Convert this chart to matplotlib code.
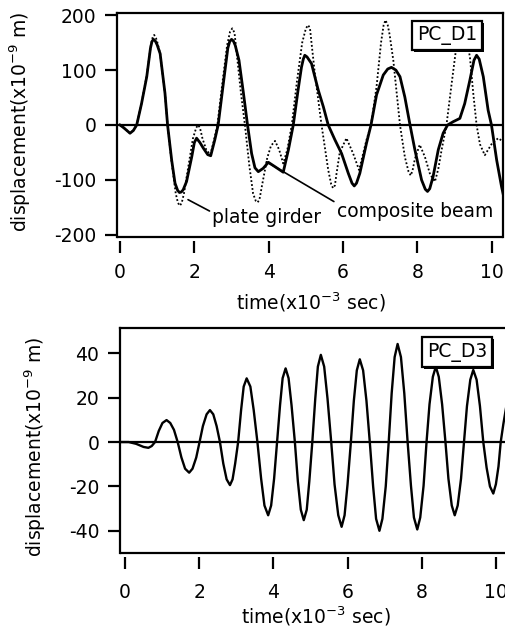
import matplotlib
matplotlib.use("Agg")
import matplotlib.pyplot as plt
import matplotlib.patheffects as pe

plt.rcParams['font.family'] = ['DejaVu Sans']
plt.rcParams['mathtext.fontset'] = 'dejavusans'

# ---------------- data ----------------
# Top panel (PC_D1): time in 1e-3 s, displacement in 1e-9 m
composite_t = [0.0, 0.1, 0.27, 0.36, 0.45, 0.58, 0.72, 0.82, 0.86, 0.90, 0.95, 1.0, 1.08, 1.21, 1.28,
               1.39, 1.48, 1.55, 1.60, 1.65, 1.70, 1.79, 1.93, 2.0, 2.06, 2.15, 2.24, 2.36, 2.44, 2.55, 2.64,
               2.78, 2.9, 2.95, 3.0, 3.05, 3.1, 3.2, 3.32, 3.43, 3.54, 3.63, 3.72, 3.85, 3.99, 4.17,
               4.39, 4.53, 4.66, 4.79, 4.88, 4.93, 4.97, 5.03, 5.15, 5.33, 5.47, 5.60, 5.78, 5.96,
               6.14, 6.24, 6.30, 6.36, 6.45, 6.63, 6.75, 6.90, 7.08, 7.20, 7.30, 7.42, 7.53, 7.66, 7.80, 7.93,
               8.11, 8.21, 8.27, 8.33, 8.42, 8.56, 8.69, 8.81, 8.96, 9.14, 9.27, 9.41, 9.52, 9.59, 9.66, 9.77,
               9.90, 9.99, 10.13, 10.26, 10.35]
composite_d = [0, -5, -15, -10, 0, 39, 88, 140, 152, 156, 153, 146, 130, 58, 0,
               -64, -106, -119, -123, -122, -118, -103, -58, -32, -24, -32, -42, -54, -56, -27, 0,
               76, 140, 152, 156, 153, 145, 118, 58, 0, -52, -78, -85, -79, -68, -76,
               -86, -45, 0, 64, 105, 120, 127, 124, 112, 64, 33, 0, -27, -52,
               -88, -106, -111, -106, -88, -33, 0, 55, 91, 102, 105, 100, 88, 51, 0, -45,
               -100, -117, -121, -116, -94, -45, -15, 0, 6, 12, 39, 82, 118, 127, 120, 88,
               27, 0, -64, -112, -140]

girder_t = [0.0, 0.1, 0.27, 0.36, 0.45, 0.58, 0.72, 0.83, 0.88, 0.92, 0.97, 1.0, 1.08, 1.21, 1.28,
            1.39, 1.5, 1.56, 1.61, 1.66, 1.72, 1.84, 1.96, 2.05, 2.10, 2.15, 2.22, 2.32, 2.43, 2.52, 2.62,
            2.76, 2.88, 2.96, 3.02, 3.08, 3.14, 3.25, 3.36, 3.48, 3.58, 3.65, 3.70, 3.75, 3.82, 3.96, 4.06,
            4.17, 4.28, 4.39, 4.5, 4.62, 4.76, 4.9, 5.0, 5.06, 5.11, 5.15, 5.24, 5.42, 5.6,
            5.68, 5.73, 5.78, 5.82, 5.91, 6.09, 6.27, 6.43, 6.63, 6.75, 6.9, 7.02, 7.09, 7.14, 7.2, 7.25,
            7.35, 7.53, 7.66, 7.76, 7.82, 7.87, 7.93, 8.06, 8.2, 8.34, 8.47, 8.56, 8.65, 8.78,
            8.92, 9.01, 9.1, 9.2, 9.3, 9.41, 9.50, 9.59, 9.68, 9.81, 9.99, 10.17, 10.3]
girder_d = [0, -5, -15, -10, 0, 40, 90, 145, 160, 164, 158, 152, 130, 58, 0,
            -68, -125, -142, -147, -142, -125, -75, -25, -5, 0, -5, -25, -45, -54, -30, 0,
            80, 145, 170, 176, 168, 130, 60, 0, -75, -125, -138, -141, -136, -110, -60, -38,
            -29, -45, -70, -45, 0, 80, 150, 176, 182, 176, 150, 94, 0, -82,
            -108, -115, -110, -90, -50, -24, -52, -82, -27, 0, 70, 150, 182, 191, 182, 165,
            118, 0, -58, -85, -92, -82, -62, -36, -58, -90, -103, -80, -45, 0,
            76, 124, 170, 185, 165, 124, 58, 0, -35, -55, -35, -24, -30]

# Bottom panel (PC_D3)
d3_t = [-0.15, 0.1, 0.3, 0.5, 0.63, 0.72, 0.81, 0.91, 1.01, 1.12, 1.22, 1.32, 1.42,
        1.52, 1.62, 1.73, 1.82, 1.92, 2.01, 2.1, 2.2, 2.29, 2.38, 2.47, 2.56, 2.65,
        2.74, 2.83, 2.9, 2.97, 3.05, 3.13, 3.2, 3.28, 3.38, 3.47, 3.57, 3.67, 3.76,
        3.86, 3.94, 4.02, 4.1, 4.18, 4.25, 4.33, 4.41, 4.49, 4.58, 4.66, 4.74, 4.82,
        4.9, 4.97, 5.05, 5.13, 5.2, 5.28, 5.37, 5.46, 5.56, 5.65, 5.75, 5.84, 5.92,
        6.0, 6.09, 6.17, 6.25, 6.33, 6.42, 6.51, 6.6, 6.69, 6.77, 6.86, 6.94, 7.03,
        7.11, 7.19, 7.27, 7.35, 7.44, 7.53, 7.62, 7.71, 7.79, 7.88, 7.96, 8.05, 8.13,
        8.21, 8.3, 8.38, 8.46, 8.55, 8.64, 8.72, 8.81, 8.89, 8.97, 9.06, 9.14, 9.22,
        9.31, 9.39, 9.48, 9.57, 9.66, 9.75, 9.84, 9.93, 10.0, 10.07, 10.13, 10.2, 10.3]
d3_d = [0, 0, -0.8, -2.2, -2.6, -1.8, 0, 5, 8.6, 9.9, 8.6, 5.5, 0,
        -6.9, -12, -13.8, -12, -7, 0, 7.2, 12.5, 14.4, 12.5, 7.2, 0, -9.7,
        -16.8, -19.4, -16.8, -9.7, 0, 14.4, 25, 28.7, 25, 14.4, 0, -16.5, -28.6,
        -33, -28.6, -16.5, 0, 16.6, 28.8, 33.2, 28.8, 16.6, 0, -17.6, -30.5, -35.2,
        -30.5, -17.6, 0, 19.6, 34, 39.3, 34, 19.6, 0, -19.1, -33, -38.2, -33,
        -19.1, 0, 18.6, 32.3, 37.3, 32.3, 18.6, 0, -20, -34.6, -40, -34.6, -20,
        0, 22, 38.3, 44.2, 38.3, 22, 0, -19.7, -34, -39.4, -34, -19.7, 0,
        17, 29.4, 34, 29.4, 17, 0, -16.5, -28.6, -33, -28.6, -16.5, 0, 16.2,
        28.1, 32.5, 28.1, 16.2, 0, -11.6, -20, -23.2, -19, -11, 0, 8, 18]

xticks = [0, 2, 4, 6, 8, 10]
top_yticks = [-200, -100, 0, 100, 200]
bot_yticks = [-40, -20, 0, 20, 40]

# ---------------- figure ----------------
W, H = 506, 631
fig = plt.figure(figsize=(W / 100, H / 100), dpi=100)

FS = 13.5


def px_axes(l, t, r, b):
    return [l / W, (H - b) / H, (r - l) / W, (b - t) / H]


def style(ax, xlim, ylim, yticks, xpad):
    ax.set_xlim(*xlim)
    ax.set_ylim(*ylim)
    ax.set_xticks(xticks)
    ax.set_yticks(yticks)
    ax.set_xticklabels([str(v) for v in xticks])
    ax.set_yticklabels([str(v) for v in yticks])
    for s in ax.spines.values():
        s.set_linewidth(1.6)
    ax.spines['bottom'].set_position(('outward', 3))
    ax.spines['bottom'].set_visible(False)
    ax.plot([0, 1], [0, 0], transform=ax.transAxes, color='black', lw=1.6,
            clip_on=False, solid_capstyle='butt', zorder=5)
    ax.tick_params(axis='y', direction='out', length=9, width=1.6, pad=6,
                   labelsize=FS, left=True, right=False)
    ax.tick_params(axis='x', direction='out', length=8.5, width=1.6, pad=xpad,
                   labelsize=FS, top=False, bottom=True)
    ax.axhline(0, color='black', lw=1.6, zorder=2)


def label_box(ax, text, x, y):
    t = ax.text(x, y, text, transform=ax.transAxes, ha='center', va='center',
                fontsize=FS, zorder=10,
                bbox=dict(boxstyle='square,pad=0.28', fc='white', ec='black', lw=1.6))
    t.get_bbox_patch().set_path_effects([
        pe.SimplePatchShadow(offset=(1.5, -1.5), shadow_rgbFace='black', alpha=1.0),
        pe.Normal()])


# Top panel
ax1 = fig.add_axes(px_axes(117, 13, 503, 237))
style(ax1, (-0.08, 10.3), (-204, 204), top_yticks, 7.5)
ax1.plot(girder_t, girder_d, color='black', lw=1.3, linestyle=(0, (1, 1.2)), zorder=3)
ax1.plot(composite_t, composite_d, color='black', lw=2.0, zorder=4,
         solid_joinstyle='round')
label_box(ax1, 'PC_D1', 0.855, 0.9)
ax1.annotate('plate girder', xy=(1.83, -136), xytext=(3.95, -168),
             fontsize=FS, ha='center', va='center',
             arrowprops=dict(arrowstyle='-', color='black', lw=1.2,
                             shrinkA=0, shrinkB=0, relpos=(0.0, 0.75)))
ax1.annotate('composite beam', xy=(3.94, -67), xytext=(7.93, -158),
             fontsize=FS, ha='center', va='center',
             arrowprops=dict(arrowstyle='-', color='black', lw=1.2,
                             shrinkA=0, shrinkB=0, relpos=(0.0, 0.95)))

# Bottom panel
ax2 = fig.add_axes(px_axes(120, 328, 520, 553))
style(ax2, (-0.135, 10.65), (-50, 51.4), bot_yticks, 10)
ax2.spines['right'].set_visible(False)
ax2.plot(d3_t, d3_d, color='black', lw=1.7, zorder=4, solid_joinstyle='round')
label_box(ax2, 'PC_D3', 0.8425, 0.893)

# Axis titles
fig.text(20 / W, 1 - 122 / H, 'displacement(x10$^{-9}$ m)', rotation=90,
         ha='center', va='center', fontsize=FS)
fig.text(35 / W, 1 - 447 / H, 'displacement(x10$^{-9}$ m)', rotation=90,
         ha='center', va='center', fontsize=FS)
fig.text(311 / W, 1 - 302 / H, 'time(x10$^{-3}$ sec)', ha='center', va='center',
         fontsize=FS)
fig.text(316 / W, 1 - 616 / H, 'time(x10$^{-3}$ sec)', ha='center', va='center',
         fontsize=FS)

fig.savefig('out.png', dpi=100)
